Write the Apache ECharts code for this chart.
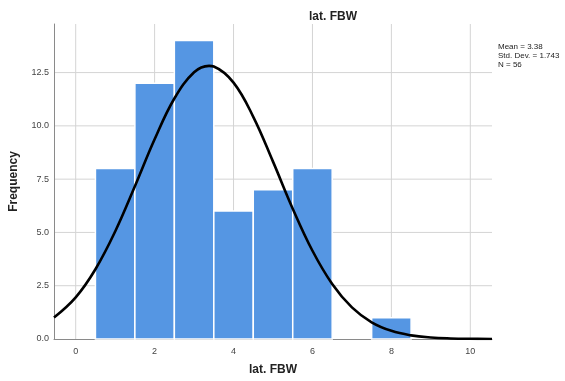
<!DOCTYPE html>
<html><head><meta charset="utf-8">
<script src="https://cdn.jsdelivr.net/npm/echarts@6/dist/echarts.min.js"></script>
<style>html,body{margin:0;padding:0;background:#fff}#c{width:565px;height:381px}</style>
</head><body><div id="c"></div>
<script>
// Histogram bins (centre values) and frequencies
const binCenters = [1, 2, 3, 4, 5, 6, 8];
const frequencies = [8, 12, 14, 6, 7, 8, 1];
const binWidth = 1;
// Normal curve points
const curveX = [-0.55, 0, 0.5, 1, 1.5, 2, 2.5, 3, 3.38, 3.5, 4, 4.5, 5, 5.5, 6, 6.5, 7, 7.5, 8, 8.5, 9, 9.5, 10, 10.55];
const curveY = [1.01, 1.956, 3.274, 5.045, 7.165, 9.369, 11.284, 12.516, 12.817, 12.787, 12.031, 10.425, 8.322, 6.116, 4.141, 2.583, 1.483, 0.784, 0.382, 0.171, 0.071, 0.027, 0.009, 0.003];
const xTicks = [0, 2, 4, 6, 8, 10];
const yTicks = [0, 2.5, 5, 7.5, 10, 12.5];
const statsLines = ['Mean = 3.38', 'Std. Dev. = 1.743', 'N = 56'];

const chart = echarts.init(document.getElementById('c'), null, {renderer: 'canvas'});
const font = 'Arial, "Liberation Sans", sans-serif';
chart.setOption({
  animation: false,
  backgroundColor: '#fff',
  title: {
    text: 'lat. FBW', left: 328, top: 6, textAlign: 'center',
    textStyle: {fontFamily: font, fontSize: 12, fontWeight: 'bold', color: '#222'}
  },
  graphic: [{
    type: 'text', left: 498, top: 42,
    style: {text: statsLines.join('\n'), fontFamily: font, fontSize: 8, lineHeight: 9, fill: '#222'}
  }],
  grid: {left: 51, right: 73, top: 24, bottom: 41.5},
  xAxis: {
    type: 'value', min: -0.55, max: 10.55,
    name: 'lat. FBW', nameLocation: 'middle', nameGap: 25,
    nameTextStyle: {fontFamily: font, fontSize: 12, fontWeight: 'bold', color: '#222'},
    axisLine: {show: true, onZero: false, lineStyle: {color: '#8a8a8a', width: 1}},
    axisTick: {show: false},
    axisLabel: {
      fontFamily: font, fontSize: 9, color: '#444', margin: 8,
      customValues: xTicks
    },
    splitLine: {show: false}
  },
  yAxis: {
    type: 'value', min: 0, max: 14.78,
    name: 'Frequency', nameLocation: 'middle', nameGap: 34, nameRotate: 90,
    nameTextStyle: {fontFamily: font, fontSize: 12, fontWeight: 'bold', color: '#222'},
    axisLine: {show: true, onZero: false, lineStyle: {color: '#8a8a8a', width: 1}},
    axisTick: {show: false},
    axisLabel: {
      fontFamily: font, fontSize: 9, color: '#444', margin: 5,
      customValues: yTicks,
      formatter: v => v.toFixed(1)
    },
    splitLine: {show: false}
  },
  series: [
    {
      type: 'custom',
      name: 'grid-x',
      silent: true,
      z: 0,
      data: xTicks.map(v => [v]),
      renderItem: function (params, api) {
        const top = api.coord([api.value(0), 14.78]);
        const bot = api.coord([api.value(0), 0]);
        return {type: 'line', shape: {x1: top[0], y1: top[1], x2: bot[0], y2: bot[1]},
          style: {stroke: '#d4d4d4', lineWidth: 1}};
      }
    },
    {
      type: 'custom',
      name: 'grid-y',
      silent: true,
      z: 0,
      data: yTicks.filter(v => v > 0).map(v => [v]),
      renderItem: function (params, api) {
        const l = api.coord([-0.55, api.value(0)]);
        const r = api.coord([10.55, api.value(0)]);
        return {type: 'line', shape: {x1: l[0], y1: l[1], x2: r[0], y2: r[1]},
          style: {stroke: '#d4d4d4', lineWidth: 1}};
      }
    },
    {
      type: 'custom',
      name: 'Histogram',
      z: 2,
      data: binCenters.map((c, i) => [c - binWidth / 2, c + binWidth / 2, frequencies[i]]),
      renderItem: function (params, api) {
        const p0 = api.coord([api.value(0), api.value(2)]);
        const p1 = api.coord([api.value(1), 0]);
        return {
          type: 'rect',
          shape: {x: p0[0], y: p0[1], width: p1[0] - p0[0], height: p1[1] - p0[1]},
          style: {fill: '#5596e3', stroke: '#ffffff', lineWidth: 1.5}
        };
      }
    },
    {
      type: 'line',
      name: 'Normal',
      z: 3,
      smooth: 0.4,
      symbol: 'none',
      data: curveX.map((x, i) => [x, curveY[i]]),
      lineStyle: {color: '#000', width: 2.6},
      clip: true
    }
  ]
});
</script></body></html>
